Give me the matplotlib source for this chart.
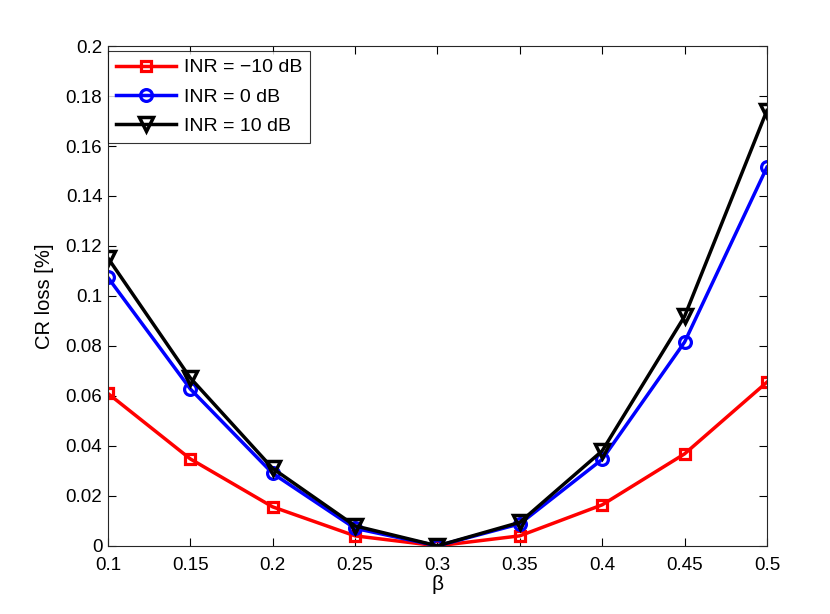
import numpy as np
import matplotlib.pyplot as plt

plt.rcParams['font.family'] = ['Liberation Sans', 'DejaVu Sans']

# Andmed
beta = [0.1, 0.15, 0.2, 0.25, 0.3, 0.35, 0.4, 0.45, 0.5]
loss_m10 = [0.061, 0.0348, 0.0156, 0.004, 0.0, 0.004, 0.0164, 0.0368, 0.0655]
loss_0 = [0.1074, 0.0628, 0.029, 0.007, 0.0, 0.0088, 0.0346, 0.0815, 0.1515]
loss_10 = [0.1152, 0.0672, 0.031, 0.008, 0.0, 0.0094, 0.038, 0.0918, 0.1742]

fig = plt.figure(figsize=(8.3, 6.14), dpi=100)
ax = fig.add_axes([0.130, 0.111, 0.794, 0.814])

ax.plot(beta, loss_m10, '-s', color='red', linewidth=2.5, markersize=7.5,
        markerfacecolor='none', markeredgewidth=2.3, label='INR = \u221210 dB')
ax.plot(beta, loss_0, '-o', color='blue', linewidth=2.5, markersize=8.5,
        markerfacecolor='none', markeredgewidth=2.3, label='INR = 0 dB')
ax.plot(beta, loss_10, '-v', color='black', linewidth=2.5, markersize=10.5,
        markerfacecolor='none', markeredgewidth=2.5, label='INR = 10 dB')

ax.set_xlim(0.1, 0.5)
ax.set_ylim(0, 0.2)
ax.set_xticks(beta)
ax.set_xticklabels(['0.1', '0.15', '0.2', '0.25', '0.3', '0.35', '0.4', '0.45', '0.5'])
ax.set_yticks(np.arange(0, 0.201, 0.02))
ax.set_yticklabels(['0', '0.02', '0.04', '0.06', '0.08', '0.1', '0.12', '0.14',
                    '0.16', '0.18', '0.2'])
ax.tick_params(direction='in', top=True, right=True, labelsize=13.5, length=6,
               width=0.8)
ax.tick_params(axis='x', pad=8)
ax.tick_params(axis='y', pad=4)
for s in ax.spines.values():
    s.set_linewidth(0.8)
    s.set_color('#262626')

ax.set_xlabel('\u03b2', fontsize=15, labelpad=1)
ax.set_ylabel('CR loss [%]', fontsize=14.5, labelpad=8)

leg = ax.legend(loc='upper left', bbox_to_anchor=(0.0, 0.99), fontsize=14,
                frameon=True, fancybox=False, edgecolor='black',
                borderaxespad=0, handlelength=3.1, labelspacing=0.6,
                borderpad=0.4, handletextpad=0.4)
leg.get_frame().set_linewidth(0.8)

plt.savefig('out.png', dpi=100)
